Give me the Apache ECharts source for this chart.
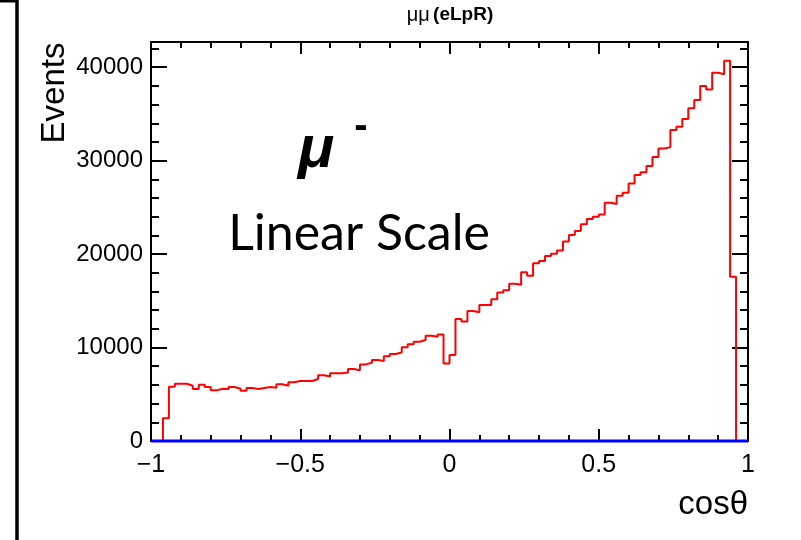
<!DOCTYPE html>
<html><head><meta charset="utf-8">
<script src="https://cdn.jsdelivr.net/npm/echarts@6/dist/echarts.min.js"></script>
<style>html,body{margin:0;padding:0;background:#fff}#c{width:801px;height:540px}</style>
</head><body><div id="c"></div>
<script>
// ---- data ----
const binLow = -1;
const binWidth = 0.02;
const muMinusCounts = [
  0, 0, 2430, 5810, 6130, 6130, 5920, 5560, 6020, 5780,
  5420, 5600, 5560, 5780, 5600, 5380, 5670, 5560, 5670, 5780,
  5700, 6070, 5920, 6280, 6420, 6420, 6420, 6630, 7030, 6900,
  7260, 7260, 7320, 7700, 7560, 8200, 8380, 8670, 8550, 9080,
  9310, 9470, 10020, 10360, 10620, 10810, 11270, 11150, 11400, 8300,
  9200, 13050, 12800, 13910, 13770, 14550, 14550, 15170, 15890, 16140,
  16830, 16720, 18050, 17690, 19010, 19250, 19800, 20040, 20380, 21350,
  22040, 22480, 23190, 23750, 24000, 24250, 25500, 25360, 26250, 26570,
  27570, 28460, 28750, 29430, 30390, 31300, 31450, 33280, 33630, 34450,
  35600, 36490, 37990, 37630, 39410, 39240, 40690, 17570, 0, 0
];
const blueX = [-1, 1];
const blueY = [0, 0];
const xTickLabels = [-1, -0.5, 0, 0.5, 1];
const yTickLabels = [0, 10000, 20000, 30000, 40000];
const yMax = 42700;

// ---- build step data (bin edges) ----
const redData = [];
for (let i = 0; i < muMinusCounts.length; i++) {
  redData.push([binLow + i * binWidth, muMinusCounts[i]]);
}
redData.push([binLow + muMinusCounts.length * binWidth, 0]);
const blueData = blueX.map((x, i) => [x, blueY[i]]);

const FONT = 'Liberation Sans, Arial, sans-serif';
const fmtX = v => {
  const r = Math.round(v * 100) / 100;
  if (!xTickLabels.some(t => Math.abs(t - r) < 1e-9)) return '';
  return r < 0 ? '\u2212' + Math.abs(r) : String(r);
};
const fmtY = v => (yTickLabels.indexOf(v) >= 0 ? String(v) : '');

const gridPos = {left: 151, right: 53, top: 42, bottom: 99, containLabel: false, outerBoundsMode: 'none'};
const lineStyle = {color: '#000', width: 2};
const tickStyle = {color: '#000', width: 2};

const chart = echarts.init(document.getElementById('c'), null, {renderer: 'canvas'});
chart.setOption({
  animation: false,
  backgroundColor: '#fff',
  grid: [Object.assign({}, gridPos), Object.assign({}, gridPos)],
  xAxis: [
    {gridIndex: 0, type: 'value', position: 'bottom', min: -1, max: 1, interval: 0.5,
     axisLine: {show: true, onZero: false, lineStyle},
     axisTick: {show: true, inside: true, length: 12, lineStyle: tickStyle},
     axisLabel: {show: true, formatter: fmtX, margin: 12, color: '#000', fontSize: 25, fontFamily: FONT, showMinLabel: true, showMaxLabel: true},
     splitLine: {show: false}},
    {gridIndex: 0, type: 'value', position: 'top', min: -1, max: 1, interval: 0.5,
     axisLine: {show: true, onZero: false, lineStyle},
     axisTick: {show: true, inside: true, length: 12, lineStyle: tickStyle},
     axisLabel: {show: false}, splitLine: {show: false}},
    {gridIndex: 1, type: 'value', position: 'bottom', min: -1, max: 1, interval: 0.1,
     axisLine: {show: false, onZero: false}, axisTick: {show: true, inside: true, length: 6, lineStyle: tickStyle},
     axisLabel: {show: false}, splitLine: {show: false}},
    {gridIndex: 1, type: 'value', position: 'top', min: -1, max: 1, interval: 0.1,
     axisLine: {show: false, onZero: false}, axisTick: {show: true, inside: true, length: 6, lineStyle: tickStyle},
     axisLabel: {show: false}, splitLine: {show: false}}
  ],
  yAxis: [
    {gridIndex: 0, type: 'value', position: 'left', min: 0, max: yMax, interval: 10000,
     axisLine: {show: true, onZero: false, lineStyle},
     axisTick: {show: true, inside: true, length: 16, lineStyle: tickStyle},
     axisLabel: {show: true, formatter: fmtY, margin: 8, color: '#000', fontSize: 24, fontFamily: FONT, showMaxLabel: false},
     splitLine: {show: false}},
    {gridIndex: 0, type: 'value', position: 'right', min: 0, max: yMax, interval: 10000,
     axisLine: {show: true, onZero: false, lineStyle},
     axisTick: {show: true, inside: true, length: 16, lineStyle: tickStyle},
     axisLabel: {show: false}, splitLine: {show: false}},
    {gridIndex: 1, type: 'value', position: 'left', min: 0, max: yMax, interval: 2000,
     axisLine: {show: false, onZero: false}, axisTick: {show: true, inside: true, length: 8, lineStyle: tickStyle},
     axisLabel: {show: false}, splitLine: {show: false}},
    {gridIndex: 1, type: 'value', position: 'right', min: 0, max: yMax, interval: 2000,
     axisLine: {show: false, onZero: false}, axisTick: {show: true, inside: true, length: 8, lineStyle: tickStyle},
     axisLabel: {show: false}, splitLine: {show: false}}
  ],
  series: [
    {type: 'line', xAxisIndex: 0, yAxisIndex: 0, step: 'end', data: redData, symbol: 'none',
     lineStyle: {color: '#ff0000', width: 2}, z: 3, clip: true},
    {type: 'line', xAxisIndex: 0, yAxisIndex: 0, data: blueData, symbol: 'none',
     lineStyle: {color: '#0000ff', width: 3}, z: 4, clip: false}
  ],
  graphic: [
    {type: 'line', shape: {x1: 17, y1: 0, x2: 17, y2: 540}, style: {stroke: '#000', lineWidth: 3.5}, silent: true},
    {type: 'line', shape: {x1: 0, y1: 1, x2: 18, y2: 1}, style: {stroke: '#000', lineWidth: 3}, silent: true},
    {type: 'text', x: 450, y: 15, silent: true,
     style: {text: '{a|\u03bc\u03bc} {b|(eLpR)}', align: 'center', verticalAlign: 'middle',
       rich: {a: {fontSize: 20, fontFamily: FONT, fill: '#000'}, b: {fontSize: 19, fontWeight: 'bold', fontFamily: FONT, fill: '#000'}}}},
    {type: 'text', x: 55, y: 93, rotation: Math.PI / 2, silent: true,
     style: {text: 'Events', fontSize: 33, fontFamily: FONT, fill: '#000', align: 'center', verticalAlign: 'middle'}},
    {type: 'text', x: 748, y: 505, silent: true,
     style: {text: 'cos\u03b8', fontSize: 33, fontFamily: FONT, fill: '#000', align: 'right', verticalAlign: 'middle'}},
    {type: 'text', x: 316, y: 150, silent: true,
     style: {text: '\u03bc', fontSize: 60, fontStyle: 'italic', fontWeight: 'bold', fontFamily: FONT, fill: '#000', align: 'center', verticalAlign: 'middle'}},
    {type: 'text', x: 361, y: 127, silent: true,
     style: {text: '-', fontSize: 40, fontWeight: 'bold', fontFamily: FONT, fill: '#000', align: 'center', verticalAlign: 'middle'}},
    {type: 'text', x: 359, y: 234, silent: true,
     style: {text: 'Linear Scale', fontSize: 50, fontFamily: 'Lato, sans-serif', fill: '#000', align: 'center', verticalAlign: 'middle'}}
  ]
});
</script></body></html>
